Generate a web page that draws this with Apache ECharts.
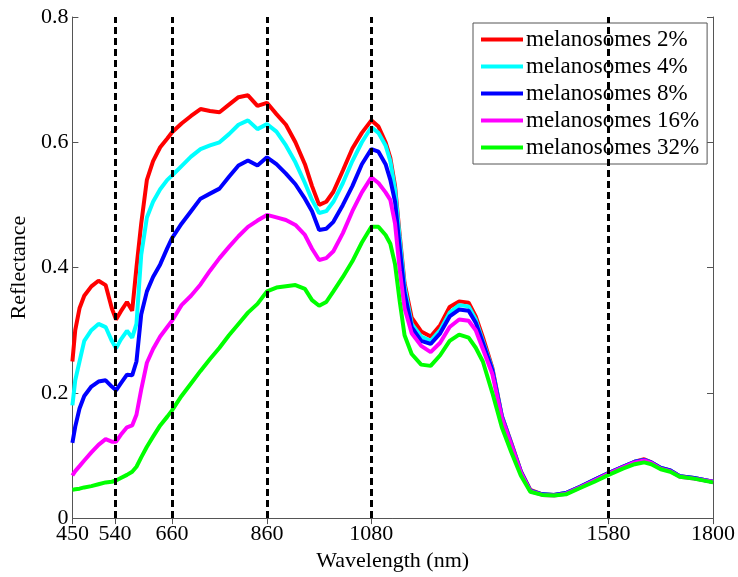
<!DOCTYPE html>
<html>
<head>
<meta charset="utf-8">
<script src="https://cdn.jsdelivr.net/npm/echarts@6/dist/echarts.min.js"></script>
<style>
	html, body { margin: 0; padding: 0; background: #fff; }
	#main { width: 738px; height: 577px; }
</style>
</head>
<body>
<div id="main"></div>
<script>
// wavelength samples (nm)
var wl = [450, 456, 465, 475, 490, 505, 520, 533, 542, 552,
	565, 576, 585, 595, 607, 620, 635, 650, 660, 680,
	700, 720, 740, 760, 780, 800, 820, 840, 860, 880,
	900, 920, 940, 955, 970, 985, 1000, 1020, 1040, 1060,
	1080, 1095, 1110, 1120, 1130, 1140, 1150, 1165, 1185, 1205,
	1225, 1245, 1265, 1285, 1300, 1315, 1335, 1355, 1375, 1395,
	1415, 1440, 1465, 1490, 1520, 1550, 1580, 1610, 1635, 1655,
	1670, 1690, 1710, 1730, 1760, 1800];

var mel2 = [0.25, 0.30, 0.335, 0.355, 0.37, 0.379, 0.372, 0.335, 0.317, 0.33,
	0.345, 0.331, 0.40, 0.47, 0.54, 0.57, 0.592, 0.606, 0.616, 0.63,
	0.642, 0.653, 0.65, 0.648, 0.66, 0.672, 0.675, 0.658, 0.663, 0.645,
	0.628, 0.60, 0.565, 0.53, 0.50, 0.505, 0.521, 0.555, 0.59, 0.615,
	0.635, 0.625, 0.60, 0.575, 0.53, 0.45, 0.375, 0.32, 0.298, 0.29,
	0.308, 0.337, 0.346, 0.344, 0.322, 0.289, 0.24, 0.163, 0.12, 0.075,
	0.045, 0.038, 0.037, 0.04, 0.05, 0.061, 0.072, 0.082, 0.09, 0.094,
	0.089, 0.08, 0.076, 0.067, 0.064, 0.058];

var mel4 = [0.18, 0.22, 0.25, 0.283, 0.30, 0.31, 0.305, 0.283, 0.271, 0.285,
	0.299, 0.288, 0.31, 0.42, 0.48, 0.505, 0.525, 0.54, 0.547, 0.562,
	0.577, 0.589, 0.595, 0.60, 0.613, 0.628, 0.635, 0.621, 0.629, 0.617,
	0.595, 0.568, 0.535, 0.508, 0.487, 0.49, 0.505, 0.535, 0.57, 0.60,
	0.624, 0.615, 0.595, 0.57, 0.525, 0.445, 0.37, 0.31, 0.29, 0.283,
	0.30, 0.328, 0.34, 0.338, 0.317, 0.283, 0.238, 0.163, 0.119, 0.074,
	0.044, 0.038, 0.037, 0.04, 0.05, 0.061, 0.072, 0.082, 0.09, 0.093,
	0.089, 0.08, 0.076, 0.067, 0.064, 0.058];

var mel8 = [0.12, 0.146, 0.175, 0.195, 0.21, 0.218, 0.22, 0.21, 0.204, 0.215,
	0.229, 0.228, 0.25, 0.325, 0.362, 0.385, 0.405, 0.431, 0.447, 0.47,
	0.49, 0.51, 0.518, 0.526, 0.545, 0.563, 0.571, 0.563, 0.576, 0.565,
	0.55, 0.533, 0.51, 0.49, 0.46, 0.462, 0.473, 0.50, 0.53, 0.565,
	0.589, 0.585, 0.565, 0.54, 0.505, 0.43, 0.36, 0.305, 0.283, 0.278,
	0.295, 0.322, 0.333, 0.331, 0.312, 0.28, 0.236, 0.162, 0.118, 0.074,
	0.044, 0.038, 0.037, 0.04, 0.05, 0.061, 0.072, 0.082, 0.09, 0.093,
	0.089, 0.08, 0.076, 0.067, 0.064, 0.058];

var mel16 = [0.068, 0.075, 0.083, 0.092, 0.105, 0.117, 0.126, 0.122, 0.122, 0.133,
	0.145, 0.148, 0.165, 0.205, 0.248, 0.27, 0.29, 0.305, 0.315, 0.34,
	0.355, 0.373, 0.395, 0.415, 0.433, 0.45, 0.465, 0.475, 0.484, 0.48,
	0.476, 0.468, 0.452, 0.43, 0.412, 0.415, 0.426, 0.455, 0.49, 0.52,
	0.544, 0.535, 0.52, 0.508, 0.47, 0.395, 0.335, 0.295, 0.275, 0.265,
	0.28, 0.305, 0.317, 0.315, 0.30, 0.27, 0.23, 0.16, 0.117, 0.073,
	0.043, 0.037, 0.036, 0.039, 0.049, 0.06, 0.071, 0.081, 0.089, 0.092,
	0.088, 0.079, 0.075, 0.066, 0.063, 0.058];

var mel32 = [0.045, 0.046, 0.047, 0.049, 0.051, 0.054, 0.057, 0.058, 0.06, 0.064,
	0.069, 0.074, 0.082, 0.097, 0.114, 0.13, 0.148, 0.162, 0.172, 0.195,
	0.215, 0.235, 0.254, 0.272, 0.292, 0.31, 0.328, 0.342, 0.362, 0.368,
	0.37, 0.372, 0.366, 0.348, 0.339, 0.345, 0.362, 0.385, 0.41, 0.44,
	0.465, 0.465, 0.452, 0.438, 0.405, 0.345, 0.292, 0.262, 0.245, 0.243,
	0.26, 0.283, 0.293, 0.288, 0.272, 0.25, 0.20, 0.145, 0.105, 0.068,
	0.042, 0.037, 0.036, 0.038, 0.048, 0.058, 0.069, 0.079, 0.086, 0.089,
	0.086, 0.078, 0.074, 0.066, 0.063, 0.057];

var names = ['melanosomes 2%', 'melanosomes 4%', 'melanosomes 8%', 'melanosomes 16%', 'melanosomes 32%'];
var colors = ['#ff0000', '#00ffff', '#0000ff', '#ff00ff', '#00ff00'];
var xTicks = [450, 540, 660, 860, 1080, 1580, 1800];
var bandLines = [540, 660, 860, 1080, 1580];

var font = 'Liberation Serif, Times New Roman, serif';
var axisColor = '#555';

function pairs(vals) {
	var out = [];
	for (var i = 0; i < wl.length; i++) {
		out.push([wl[i], vals[i]]);
	}
	return out;
}

var myChart = echarts.init(document.getElementById('main'));
var allVals = [mel2, mel4, mel8, mel16, mel32];
var serie = [];
for (var i = 0; i < allVals.length; i++) {
	serie.push({
		name: names[i],
		type: 'line',
		showSymbol: false,
		lineStyle: { color: colors[i], width: 4 },
		itemStyle: { color: colors[i] },
		data: pairs(allVals[i])
	});
}
// vertical dashed lines
serie.push({
	name: 'bands',
	type: 'line',
	data: [],
	z: 10,
	markLine: {
		silent: true,
		symbol: 'none',
		label: { show: false },
		lineStyle: { color: '#000', type: [7, 4], width: 3 },
		data: bandLines.map(function (v) { return { xAxis: v }; })
	}
});

var option = {
	animation: false,
	grid: { left: 72, right: 25, top: 17, bottom: 55 },
	legend: {
		data: names,
		orient: 'vertical',
		left: 473,
		top: 23,
		padding: [5, 8, 5, 8],
		itemWidth: 42,
		itemHeight: 4,
		itemGap: 4,
		icon: 'rect',
		backgroundColor: '#fff',
		borderColor: axisColor,
		borderWidth: 1,
		borderRadius: 0,
		textStyle: { fontFamily: font, fontSize: 23, color: '#000', padding: [0, 0, 0, -2] }
	},
	xAxis: [{
		type: 'value',
		min: 450,
		max: 1800,
		name: 'Wavelength (nm)',
		nameLocation: 'middle',
		nameGap: 30,
		nameTextStyle: { fontFamily: font, fontSize: 22, color: '#000' },
		axisLine: { lineStyle: { color: axisColor } },
		axisTick: { inside: true, length: 6, lineStyle: { color: axisColor }, customValues: xTicks },
		axisLabel: {
			fontFamily: font, fontSize: 22, color: '#000', margin: 5, customValues: xTicks,
			formatter: function (v) { return String(v); }
		},
		splitLine: { show: false }
	}, {
		type: 'value',
		position: 'top',
		min: 450,
		max: 1800,
		axisLine: { lineStyle: { color: axisColor } },
		axisTick: { inside: true, length: 6, lineStyle: { color: axisColor }, customValues: xTicks },
		axisLabel: { show: false },
		splitLine: { show: false }
	}],
	yAxis: [{
		type: 'value',
		min: 0,
		max: 0.8,
		interval: 0.2,
		name: 'Reflectance',
		nameLocation: 'middle',
		nameGap: 40,
		nameTextStyle: { fontFamily: font, fontSize: 22, color: '#000' },
		axisLine: { show: true, lineStyle: { color: axisColor } },
		axisTick: { show: true, inside: true, length: 6, lineStyle: { color: axisColor } },
		axisLabel: { fontFamily: font, fontSize: 22, color: '#000', margin: 4 },
		splitLine: { show: false }
	}, {
		type: 'value',
		position: 'right',
		min: 0,
		max: 0.8,
		interval: 0.2,
		axisLine: { show: true, lineStyle: { color: axisColor } },
		axisTick: { show: true, inside: true, length: 6, lineStyle: { color: axisColor } },
		axisLabel: { show: false },
		splitLine: { show: false }
	}],
	series: serie
};

myChart.setOption(option);
</script>
</body>
</html>
